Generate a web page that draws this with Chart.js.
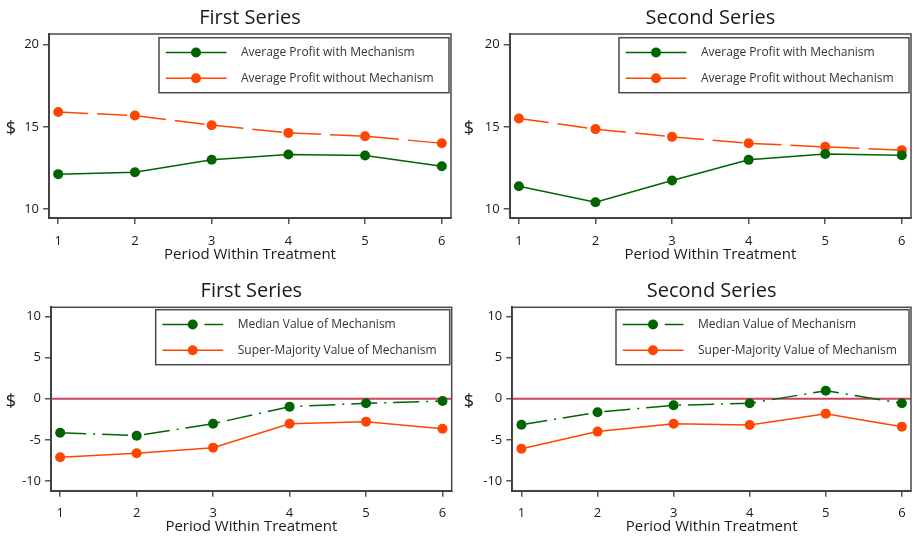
<!DOCTYPE html>
<html><head><meta charset="utf-8">
<script src="https://cdn.jsdelivr.net/npm/chart.js@4/dist/chart.umd.min.js"></script>
<style>
html,body{margin:0;padding:0;background:#fff;}
#wrap{position:relative;width:916px;height:536px;overflow:hidden;background:#fff;}
.panel{position:absolute;width:458px;height:268px;}
</style></head><body>
<div id="wrap">
<div class="panel" style="left:0;top:0"><canvas id="c1" width="458" height="268"></canvas></div>
<div class="panel" style="left:458px;top:0"><canvas id="c2" width="458" height="268"></canvas></div>
<div class="panel" style="left:0;top:268px"><canvas id="c3" width="458" height="268"></canvas></div>
<div class="panel" style="left:458px;top:268px"><canvas id="c4" width="458" height="268"></canvas></div>
</div>
<script>
// ---- data ----
const periods = [1, 2, 3, 4, 5, 6];
const xTicks = [1, 2, 3, 4, 5, 6];
const profitTicks = [10, 15, 20];
const valueTicks = [-10, -5, 0, 5, 10];
const zeroLine = 0;
const panelTitles = ['First Series', 'Second Series', 'First Series', 'Second Series'];
const xTitle = 'Period Within Treatment';
const yTitle = '$';
const profitLabels = ['Average Profit with Mechanism', 'Average Profit without Mechanism'];
const valueLabels = ['Median Value of Mechanism', 'Super-Majority Value of Mechanism'];
const firstWith = [12.12, 12.24, 13.0, 13.31, 13.25, 12.6];
const firstWithout = [15.9, 15.69, 15.1, 14.63, 14.43, 14.0];
const secondWith = [11.38, 10.41, 11.73, 12.99, 13.35, 13.27];
const secondWithout = [15.51, 14.86, 14.39, 14.0, 13.78, 13.58];
const firstMedian = [-4.13, -4.5, -3.04, -0.97, -0.56, -0.28];
const firstSuper = [-7.12, -6.64, -5.95, -3.04, -2.79, -3.65];
const secondMedian = [-3.16, -1.65, -0.8, -0.56, 0.97, -0.56];
const secondSuper = [-6.08, -4.0, -3.04, -3.2, -1.82, -3.4];

// ---- styles ----
const GREEN = '#006400';
const ORANGE = '#FF4500';
const ZERO = '#C9455F';
const FONT = "'Open Sans', 'Noto Sans', sans-serif";
const TEXT = '#1a1a1a';

const framePlugin = {
  id: 'frame',
  beforeDatasetsDraw(chart, args, opts) {
    const {ctx, chartArea: a} = chart;
    ctx.save();
    if (opts.zero !== undefined && opts.zero !== null) {
      const y = chart.scales.y.getPixelForValue(opts.zero);
      ctx.strokeStyle = ZERO; ctx.lineWidth = 2;
      ctx.beginPath(); ctx.moveTo(a.left, y); ctx.lineTo(a.right, y); ctx.stroke();
    }
    ctx.strokeStyle = '#4a4a4a'; ctx.lineWidth = 1.5;
    ctx.strokeRect(a.left, a.top, a.right - a.left, a.bottom - a.top);
    ctx.restore();
  },
  afterDraw(chart, args, opts) {
    const {ctx, chartArea: a} = chart;
    ctx.save();
    ctx.fillStyle = TEXT;
    ctx.textAlign = 'center'; ctx.textBaseline = 'middle';
    ctx.font = "18px " + FONT;
    ctx.fillText(yTitle, 11, (a.top + a.bottom) / 2 + 3);
    ctx.font = "20px " + FONT;
    ctx.fillText(opts.title, (a.left + a.right) / 2, opts.titleY);
    ctx.restore();
  }
};

const boxLegend = {
  id: 'boxLegend',
  afterDatasetsDraw(chart, args, o) {
    const {ctx, chartArea: a} = chart;
    const x0 = a.right - o.offsetRight - o.width, y0 = a.top + o.offsetTop;
    ctx.save();
    ctx.fillStyle = '#fff'; ctx.fillRect(x0, y0, o.width, o.height);
    ctx.strokeStyle = '#4a4a4a'; ctx.lineWidth = 1.5;
    ctx.strokeRect(x0, y0, o.width, o.height);
    chart.data.datasets.forEach((ds, i) => {
      const y = y0 + o.rows[i];
      ctx.strokeStyle = ds.borderColor; ctx.lineWidth = ds.borderWidth;
      ctx.setLineDash(ds.legendDash || []);
      ctx.beginPath(); ctx.moveTo(x0 + 6.7, y); ctx.lineTo(x0 + 67.5, y); ctx.stroke();
      ctx.setLineDash([]);
      ctx.fillStyle = ds.pointBackgroundColor;
      ctx.beginPath(); ctx.arc(x0 + 37, y, ds.pointRadius, 0, Math.PI * 2); ctx.fill();
      ctx.fillStyle = '#333';
      ctx.font = "12px " + FONT;
      ctx.textAlign = 'left'; ctx.textBaseline = 'middle';
      ctx.fillText(ds.label, x0 + 82, y);
    });
    ctx.restore();
  }
};

function series(label, values, color, dash, legendDash) {
  return {
    label: label,
    data: periods.map((p, i) => ({x: p, y: values[i]})),
    borderColor: color, backgroundColor: color,
    pointBackgroundColor: color, pointBorderColor: color,
    pointRadius: 5, pointBorderWidth: 0, pointHoverRadius: 5,
    borderWidth: 1.5, borderDash: dash, legendDash: legendDash,
    tension: 0, fill: false
  };
}

function makePanel(id, p) {
  const area = p.area;
  new Chart(document.getElementById(id), {
    type: 'line',
    data: {datasets: p.datasets},
    plugins: [framePlugin, boxLegend],
    options: {
      responsive: false, animation: false, events: [],
      layout: {padding: {left: 0, right: 458 - area.right, top: area.top, bottom: 0}},
      plugins: {
        legend: {display: false}, tooltip: {enabled: false}, title: {display: false},
        frame: {zero: p.zero, title: p.title, titleY: p.titleY},
        boxLegend: {width: p.legendW, height: 55, offsetRight: 2, offsetTop: p.legendTop, rows: [14.8, 40.6]}
      },
      scales: {
        x: {
          type: 'linear', min: 0.88, max: 6.12,
          afterBuildTicks: s => { s.ticks = xTicks.map(v => ({value: v})); },
          afterFit: s => { s.height = 268 - area.bottom; },
          grid: {drawOnChartArea: false, drawTicks: true, tickLength: 6, color: '#555', lineWidth: 1.5},
          border: {display: true, color: '#333', width: 2},
          ticks: {color: TEXT, font: {family: FONT, size: 13}, padding: 9, maxRotation: 0,
                  callback: v => String(v)},
          title: {display: true, text: xTitle, color: TEXT,
                  font: {family: FONT, size: 15, lineHeight: 1.2}, padding: {top: 0, bottom: p.xTitleBottom}}
        },
        y: {
          type: 'linear', min: p.yMin, max: p.yMax,
          afterBuildTicks: s => { s.ticks = p.yTicks.map(v => ({value: v})); },
          afterFit: s => { s.width = area.left; },
          grid: {drawOnChartArea: false, drawTicks: true, tickLength: 6, color: '#555', lineWidth: 1.5},
          border: {display: true, color: '#333', width: 2},
          ticks: {color: TEXT, font: {family: FONT, size: 13}, padding: 4,
                  callback: v => String(v)}
        }
      }
    }
  });
}

makePanel('c1', {
  title: panelTitles[0], titleY: 18, area: {left: 49, right: 451, top: 34, bottom: 218}, xTitleBottom: 4.5,
  yMin: 9.45, yMax: 20.65, yTicks: profitTicks, zero: null, legendW: 290, legendTop: 3.7,
  datasets: [series(profitLabels[0], firstWith, GREEN, [], []),
             series(profitLabels[1], firstWithout, ORANGE, [30, 9], [])]
});
makePanel('c2', {
  title: panelTitles[1], titleY: 18, area: {left: 51.7, right: 455, top: 34, bottom: 218}, xTitleBottom: 4.5,
  yMin: 9.45, yMax: 20.65, yTicks: profitTicks, zero: null, legendW: 290, legendTop: 3.7,
  datasets: [series(profitLabels[0], secondWith, GREEN, [], []),
             series(profitLabels[1], secondWithout, ORANGE, [30, 9], [])]
});
makePanel('c3', {
  title: panelTitles[2], titleY: 23.3, area: {left: 51, right: 451.7, top: 39.3, bottom: 222.7}, xTitleBottom: 0,
  yMin: -11.18, yMax: 11.1, yTicks: valueTicks, zero: zeroLine, legendW: 294, legendTop: 2.4,
  datasets: [series(valueLabels[0], firstMedian, GREEN, [26, 7, 2, 7], [26, 7, 2, 7]),
             series(valueLabels[1], firstSuper, ORANGE, [], [])]
});
makePanel('c4', {
  title: panelTitles[3], titleY: 23.3, area: {left: 54.3, right: 455.7, top: 39.3, bottom: 222.7}, xTitleBottom: 0,
  yMin: -11.18, yMax: 11.1, yTicks: valueTicks, zero: zeroLine, legendW: 293, legendTop: 2.4,
  datasets: [series(valueLabels[0], secondMedian, GREEN, [26, 7, 2, 7], [26, 7, 2, 7]),
             series(valueLabels[1], secondSuper, ORANGE, [], [])]
});
</script>
</body></html>
